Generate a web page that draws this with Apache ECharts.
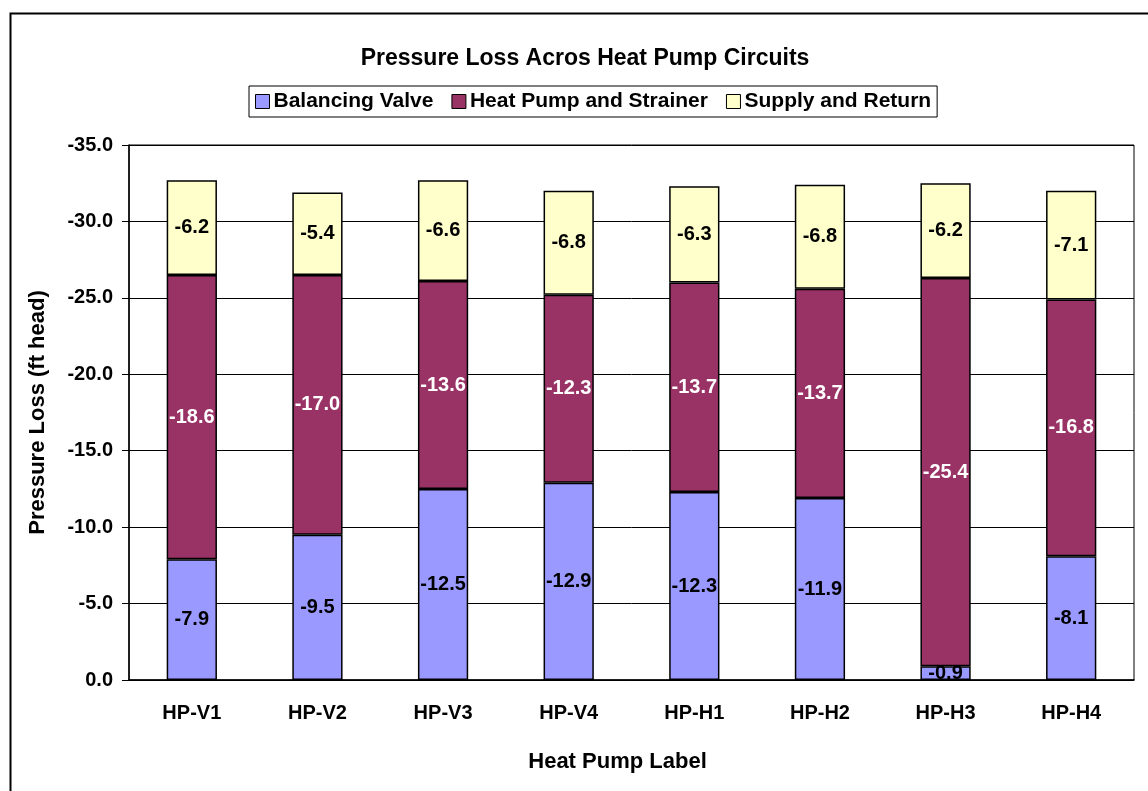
<!DOCTYPE html>
<html>
<head>
<meta charset="utf-8">
<script src="https://cdn.jsdelivr.net/npm/echarts@6/dist/echarts.min.js"></script>
<style>html,body{margin:0;padding:0;background:#fff}#c{width:1148px;height:791px}</style>
</head>
<body>
<div id="c"></div>
<script>
const categories = ['HP-V1','HP-V2','HP-V3','HP-V4','HP-H1','HP-H2','HP-H3','HP-H4'];
const balancingValve = [-7.9,-9.5,-12.5,-12.9,-12.3,-11.9,-0.9,-8.1];
const heatPumpStrainer = [-18.6,-17.0,-13.6,-12.3,-13.7,-13.7,-25.4,-16.8];
const supplyReturn = [-6.2,-5.4,-6.6,-6.8,-6.3,-6.8,-6.2,-7.1];
const seriesNames = ['Balancing Valve','Heat Pump and Strainer','Supply and Return'];

const FONT = '"Liberation Sans", Arial, sans-serif';
const chart = echarts.init(document.getElementById('c'), null, {renderer:'canvas'});
const fmt = p => p.value.toFixed(1);
function mk(name, data, color, labelColor){
  return {
    name, type:'bar', stack:'total', data, barWidth:'40%',
    itemStyle:{color, borderColor:'#000', borderWidth:1.5},
    label:{show:true, position:'inside', formatter:fmt, color:labelColor,
      fontFamily:FONT, fontWeight:'bold', fontSize:20},
    emphasis:{disabled:true}
  };
}
chart.setOption({
  animation:false,
  backgroundColor:'#fff',
  graphic:[{type:'rect', left:8, top:11, shape:{width:1200, height:820},
    style:{fill:'none', stroke:'#000', lineWidth:2}, z:100}],
  title:{text:'Pressure Loss Acros Heat Pump Circuits', left:580, top:42, textAlign:'center',
    textStyle:{fontFamily:FONT, fontWeight:'bold', fontSize:23, color:'#000'}},
  legend:{top:86, left:249, data:seriesNames, icon:'rect', itemWidth:14, itemHeight:14, itemGap:18,
    borderColor:'#000', borderWidth:1, padding:[5,6,5,6],
    textStyle:{fontFamily:FONT, fontWeight:'bold', fontSize:21, color:'#000', padding:[0,0,0,-1]},
    itemStyle:{borderColor:'#000', borderWidth:1}},
  grid:{left:129, right:14, top:145, bottom:111, show:true, borderColor:'#000', borderWidth:1},
  xAxis:{type:'category', data:categories,
    name:'Heat Pump Label', nameLocation:'middle', nameGap:71,
    nameTextStyle:{fontFamily:FONT, fontWeight:'bold', fontSize:22, color:'#000', padding:[0,28,0,0]},
    axisLine:{lineStyle:{color:'#000', width:1.5}},
    axisTick:{inside:true, length:6, lineStyle:{color:'#000'}},
    axisLabel:{fontFamily:FONT, fontWeight:'bold', fontSize:20, color:'#000', margin:23}},
  yAxis:{type:'value', inverse:true, min:-35, max:0, interval:5,
    name:'Pressure Loss (ft head)', nameLocation:'middle', nameGap:80, nameRotate:90,
    nameTextStyle:{fontFamily:FONT, fontWeight:'bold', fontSize:22, color:'#000'},
    axisLine:{show:true, lineStyle:{color:'#000', width:1.5}},
    axisTick:{show:true, length:7, lineStyle:{color:'#000'}},
    splitLine:{show:true, lineStyle:{color:'#000', width:1}},
    axisLabel:{fontFamily:FONT, fontWeight:'bold', fontSize:20, color:'#000', margin:16,
      formatter:v => v.toFixed(1)}},
  series:[
    mk(seriesNames[0], balancingValve, '#9999ff', '#000'),
    mk(seriesNames[1], heatPumpStrainer, '#993366', '#fff'),
    mk(seriesNames[2], supplyReturn, '#ffffcc', '#000')
  ]
});
</script>
</body>
</html>
